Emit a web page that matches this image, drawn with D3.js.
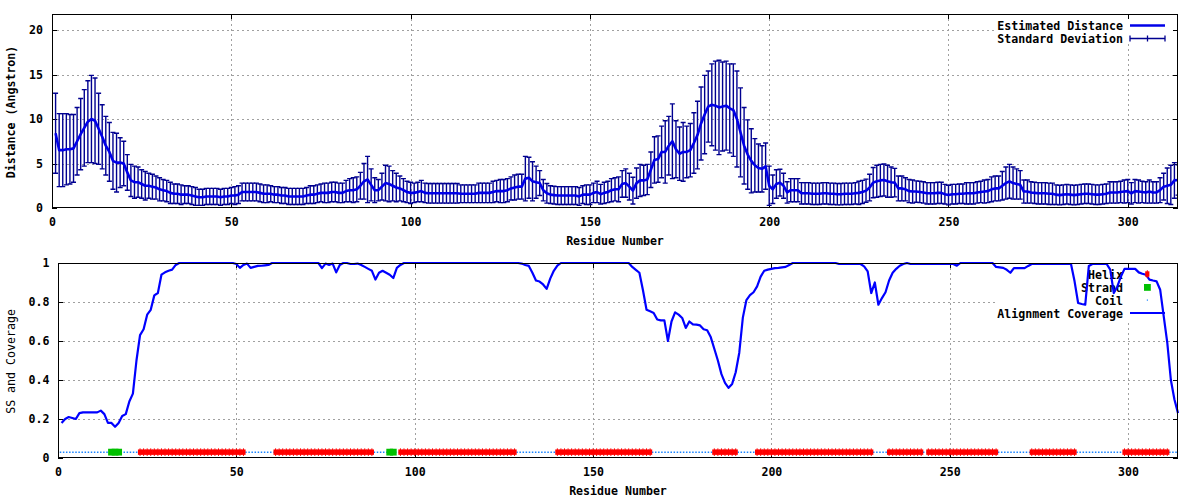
<!DOCTYPE html>
<html><head><meta charset="utf-8">
<script src="https://cdn.jsdelivr.net/npm/d3@7"></script>
<style>
html,body{margin:0;padding:0;background:#fff;}
svg{display:block;}
text{font-family:"DejaVu Sans Mono",monospace;font-weight:bold;font-size:11.6px;fill:#000;}
text.ytitle2{font-weight:normal;}
</style></head><body>
<svg id="chart" width="1200" height="500"></svg>
<script>
// ---- data, residue i+1 for index i ----
const distance = [
8.4,6.5,6.5,6.6,6.6,6.7,7.5,8.3,9.0,9.7,
10.0,9.8,8.9,8.0,7.0,6.3,5.3,5.1,5.1,5.0,
4.0,3.1,2.9,2.9,2.7,2.5,2.5,2.4,2.3,2.1,
2.0,1.9,1.7,1.6,1.6,1.5,1.5,1.5,1.4,1.3,
1.2,1.2,1.3,1.3,1.3,1.3,1.2,1.3,1.3,1.4,
1.4,1.5,1.8,1.8,1.8,1.8,1.8,1.7,1.6,1.6,
1.6,1.5,1.5,1.4,1.4,1.3,1.3,1.3,1.3,1.3,
1.4,1.5,1.5,1.6,1.7,1.7,1.7,1.8,1.8,1.7,
1.7,1.9,2.0,2.0,2.1,2.5,3.0,3.2,2.6,2.0,
2.0,2.4,2.8,2.7,2.5,2.3,2.2,2.0,1.8,1.7,
1.7,1.8,1.9,1.7,1.65,1.65,1.65,1.65,1.65,1.65,
1.65,1.65,1.65,1.6,1.6,1.6,1.6,1.6,1.7,1.7,
1.7,1.7,1.8,1.9,1.9,1.9,2.0,2.2,2.3,2.4,
2.4,3.3,3.4,3.0,2.9,2.8,2.0,1.65,1.5,1.45,
1.4,1.4,1.4,1.4,1.4,1.4,1.3,1.5,1.5,1.5,
1.7,1.8,1.55,1.7,1.8,2.0,2.1,2.1,2.7,2.8,
2.4,1.95,2.8,3.1,3.1,3.2,4.3,5.4,5.5,6.3,
6.3,7.0,7.5,6.6,6.1,6.3,6.3,6.5,7.3,8.2,
9.5,10.5,11.4,11.6,11.5,11.3,11.4,11.5,11.2,11.0,
10.0,8.5,7.0,6.0,5.3,4.8,4.5,4.4,4.7,2.5,
2.1,2.7,2.85,2.5,1.75,2.0,2.0,2.0,1.65,1.65,
1.65,1.6,1.6,1.6,1.65,1.65,1.6,1.6,1.55,1.55,
1.6,1.6,1.6,1.65,1.7,1.8,1.95,2.3,2.85,3.0,
3.1,3.15,3.0,2.9,2.85,2.2,2.2,2.1,1.9,1.85,
1.85,1.8,1.75,1.65,1.65,1.65,1.7,1.7,1.55,1.45,
1.55,1.55,1.6,1.6,1.65,1.65,1.65,1.75,1.8,1.85,
1.9,2.1,2.2,2.2,2.5,2.8,3.0,2.8,2.7,2.6,
1.85,1.85,1.75,1.7,1.65,1.65,1.65,1.6,1.6,1.5,
1.45,1.5,1.55,1.5,1.45,1.5,1.55,1.6,1.6,1.55,
1.5,1.5,1.55,1.6,1.75,1.75,1.75,1.8,1.85,1.9,
1.65,1.9,1.85,1.8,1.75,1.85,1.75,1.75,2.0,2.4,
2.5,2.6,3.1,3.15];

const stdDev = [
4.5,4.1,4.1,4.0,3.9,3.8,3.8,4.0,4.3,4.6,
4.9,4.8,4.0,3.6,3.3,3.3,3.2,3.3,2.8,2.5,
2.0,1.8,1.8,1.7,1.6,1.6,1.4,1.4,1.3,1.3,
1.2,1.2,1.2,1.1,1.1,1.1,1.0,1.0,1.0,1.0,
0.9,0.9,0.9,0.9,0.9,0.9,0.9,0.9,0.9,0.9,
1.0,1.0,1.0,1.0,1.0,1.0,1.0,1.0,1.0,1.0,
0.9,0.9,0.9,0.9,0.9,0.9,0.9,0.9,0.9,0.9,
0.9,1.0,1.0,1.0,1.0,1.1,1.1,1.1,1.1,1.1,
1.1,1.2,1.3,1.4,1.4,1.5,2.0,2.6,1.8,1.4,
1.2,1.5,2.0,2.0,1.7,1.6,1.4,1.3,1.2,1.2,
1.1,1.1,1.2,1.1,1.1,1.1,1.1,1.1,1.1,1.1,
1.1,1.1,1.1,1.0,1.0,1.0,1.0,1.0,1.1,1.1,
1.1,1.1,1.2,1.2,1.3,1.3,1.3,1.3,1.4,1.4,
1.4,2.5,2.3,2.2,1.8,1.4,1.2,1.1,1.0,1.0,
1.0,1.0,1.0,1.0,1.0,1.0,1.0,1.0,1.1,1.1,
1.1,1.2,1.1,1.2,1.2,1.3,1.3,1.4,1.5,1.6,
1.5,1.5,1.7,1.8,1.7,1.7,2.0,2.6,2.6,2.9,
3.5,3.3,4.2,3.2,3.0,3.3,2.9,3.0,3.4,3.8,
4.1,4.4,4.0,4.6,5.0,5.3,5.0,5.0,5.0,5.2,
5.4,5.0,4.3,3.9,3.6,3.0,2.7,2.6,2.6,2.2,
1.6,1.6,1.5,1.4,1.2,1.3,1.3,1.3,1.2,1.2,
1.2,1.2,1.2,1.2,1.2,1.2,1.2,1.2,1.2,1.2,
1.2,1.2,1.2,1.2,1.3,1.3,1.3,1.5,1.7,1.8,
1.8,1.8,1.8,1.7,1.6,1.4,1.4,1.3,1.3,1.3,
1.2,1.2,1.2,1.2,1.2,1.2,1.2,1.2,1.1,1.1,
1.1,1.1,1.1,1.1,1.2,1.2,1.2,1.2,1.2,1.3,
1.3,1.4,1.4,1.4,1.6,1.8,1.9,1.8,1.7,1.6,
1.3,1.3,1.2,1.2,1.2,1.2,1.2,1.2,1.2,1.1,
1.1,1.1,1.1,1.1,1.1,1.1,1.1,1.1,1.1,1.1,
1.1,1.1,1.1,1.1,1.2,1.2,1.2,1.2,1.3,1.3,
1.2,1.3,1.3,1.2,1.2,1.3,1.2,1.2,1.4,1.5,
2.0,2.2,2.0,1.7];

const coverage = [
0.18,0.20,0.21,0.205,0.20,0.23,0.234,0.234,0.234,0.234,
0.234,0.243,0.225,0.18,0.18,0.16,0.18,0.215,0.225,0.29,
0.33,0.50,0.63,0.66,0.735,0.76,0.834,0.846,0.94,0.952,
0.96,0.966,0.99,1,1,1,1,1,1,1,
1,1,1,1,1,1,1,1,1,0.995,
0.975,0.99,0.997,0.975,0.98,0.985,0.986,0.988,0.99,1,
1,1,1,1,1,1,1,1,1,1,
1,1,1,0.974,0.997,0.99,0.997,0.952,0.99,1,
1,0.995,0.995,0.997,0.99,0.98,0.97,0.96,0.915,0.95,
0.96,0.95,0.94,0.923,0.975,0.99,1,1,1,1,
1,1,1,1,1,1,1,1,1,1,
1,1,1,1,1,1,1,1,1,1,
1,1,1,1,1,1,1,1,1,0.997,
0.99,0.985,0.95,0.91,0.905,0.89,0.867,0.92,0.96,0.986,
1,1,1,1,1,1,1,1,1,1,
1,1,1,1,1,1,1,1,1,1,
0.98,0.965,0.95,0.86,0.76,0.752,0.744,0.71,0.706,0.706,
0.6,0.7,0.747,0.735,0.718,0.667,0.70,0.685,0.684,0.68,
0.66,0.655,0.62,0.56,0.50,0.43,0.385,0.36,0.38,0.44,
0.54,0.72,0.81,0.835,0.85,0.88,0.93,0.96,0.966,0.97,
0.974,0.975,0.978,0.98,0.99,1,1,1,1,1,
1,1,1,1,1,1,1,1,0.995,0.995,
0.995,0.995,0.995,0.995,0.995,0.983,0.957,0.846,0.9,0.786,
0.82,0.85,0.91,0.95,0.97,0.986,0.995,1,0.995,0.995,
0.995,0.995,0.995,0.995,0.995,0.995,0.995,0.995,0.995,0.995,
0.995,0.986,1,1,1,1,1,1,1,1,
1,1,0.98,0.978,0.975,0.965,0.95,0.974,0.974,0.974,
0.974,0.985,0.995,0.995,0.995,0.995,0.995,0.995,0.995,0.995,
0.995,0.995,0.995,0.995,0.906,0.795,0.79,0.786,0.985,0.995,
0.995,0.995,0.995,0.995,0.966,0.846,0.88,0.93,0.97,0.97,
0.97,0.97,0.952,0.945,0.94,0.915,0.91,0.906,0.863,0.726,
0.59,0.40,0.30,0.23];

// secondary structure runs: [type, first residue, last residue]
const ssRuns = [["C",1,14],["E",15,17],["C",18,22],["H",23,52],["C",53,60],["H",61,88],
["C",89,92],["E",93,94],["C",95,95],["H",96,128],["C",129,139],["H",140,166],["C",167,183],
["H",184,190],["C",191,195],["H",196,228],["C",229,232],["H",233,242],["C",243,243],
["H",244,263],["C",264,272],["H",273,285],["C",286,298],["H",299,311],["C",312,314]];
const ssLevel = 0.03;

const xTicks = [0,50,100,150,200,250,300];
const distTicks = [0,5,10,15,20];
const covTicks = [0,0.2,0.4,0.6,0.8,1];
const xMax = 314, distMax = 21.8;

// ---- drawing ----
const svg = d3.select("#chart");
const P1 = {l:52, r:1178, t:14, b:208};
const P2 = {l:58, r:1178, t:263, b:458};
const x1 = d3.scaleLinear().domain([0,xMax]).range([P1.l,P1.r]);
const y1 = d3.scaleLinear().domain([0,distMax]).range([P1.b,P1.t]);
const x2 = d3.scaleLinear().domain([0,xMax]).range([P2.l,P2.r]);
const y2 = d3.scaleLinear().domain([0,1]).range([P2.b,P2.t]);

const lineBlue = "#0000e8", barBlue = "#000090", covBlue = "#0000ff";
const helixRed = "#ff0000", strandGreen = "#00c000", coilBlue = "#1a84ff";

function drawGrid(P, x, y, xt, yt) {
  const g = svg.append("g").attr("stroke","#a0a0a0").attr("stroke-width",1)
    .attr("stroke-dasharray","2,3").attr("shape-rendering","crispEdges");
  g.selectAll("line.vx").data(xt.filter(v => x(v) > P.l+1 && x(v) < P.r-1)).join("line")
    .attr("x1",d=>Math.round(x(d))+0.5).attr("x2",d=>Math.round(x(d))+0.5).attr("y1",P.t).attr("y2",P.b);
  g.selectAll("line.hy").data(yt.filter(v => y(v) < P.b-1 && y(v) > P.t+1)).join("line")
    .attr("y1",d=>Math.round(y(d))+0.5).attr("y2",d=>Math.round(y(d))+0.5).attr("x1",P.l).attr("x2",P.r);
}
drawGrid(P1, x1, y1, xTicks, distTicks);
drawGrid(P2, x2, y2, xTicks, covTicks);

// opaque key boxes
svg.append("rect").attr("x",997).attr("y",P1.t+1).attr("width",P1.r-998).attr("height",29).attr("fill","#fff");
svg.append("rect").attr("x",997).attr("y",P2.t+1).attr("width",P2.r-998).attr("height",56).attr("fill","#fff");

function axes(P, x, y, yt, yfmt, ypad) {
  const gb = svg.append("g").attr("transform",`translate(0,${P.b})`)
    .call(d3.axisBottom(x).tickValues(xTicks).tickSizeInner(-5).tickSizeOuter(0).tickPadding(10));
  const gt = svg.append("g").attr("transform",`translate(0,${P.t})`)
    .call(d3.axisTop(x).tickValues(xTicks).tickSizeInner(-5).tickSizeOuter(0).tickFormat(""));
  const gl = svg.append("g").attr("transform",`translate(${P.l},0)`)
    .call(d3.axisLeft(y).tickValues(yt).tickFormat(yfmt).tickSizeInner(-5).tickSizeOuter(0).tickPadding(ypad));
  const gr = svg.append("g").attr("transform",`translate(${P.r},0)`)
    .call(d3.axisRight(y).tickValues(yt).tickSizeInner(-5).tickSizeOuter(0).tickFormat(""));
  [gb,gt,gl,gr].forEach(g => { g.select(".domain").remove(); g.selectAll("line").attr("shape-rendering","crispEdges"); });
}
axes(P1, x1, y1, distTicks, d3.format("d"), 9);
axes(P2, x2, y2, covTicks, d3.format("~g"), 8.5);

// legends (text)
function legendText(txt, yc) {
  svg.append("text").attr("x",1123).attr("y",yc).attr("dy","0.36em").attr("text-anchor","end").text(txt);
}
legendText("Estimated Distance", 26);
legendText("Standard Deviation", 38.7);
legendText("Helix", 275);
legendText("Strand", 288);
legendText("Coil", 300.7);
legendText("Alignment Coverage", 313.7);

// ---- top panel data ----
svg.append("clipPath").attr("id","c1").append("rect").attr("x",P1.l).attr("y",P1.t).attr("width",P1.r-P1.l).attr("height",P1.b-P1.t);
const gTop = svg.append("g").attr("clip-path","url(#c1)");
const pts = distance.map((d,i) => ({r:i+1, d, s:stdDev[i]}));
const eb = gTop.append("g").attr("stroke",barBlue).attr("stroke-width",1.4).attr("fill","none");
eb.selectAll("path").data(pts).join("path")
  .attr("d", p => {
    const xx = x1(p.r), yt = y1(p.d+p.s), yb = y1(p.d-p.s);
    return `M${xx},${yt}V${yb}M${xx-2.5},${yt}H${xx+2.5}M${xx-2.5},${yb}H${xx+2.5}`;
  });
gTop.append("path").datum(pts).attr("fill","none").attr("stroke",lineBlue).attr("stroke-width",2.6)
  .attr("stroke-linejoin","round")
  .attr("d", d3.line().x(p=>x1(p.r)).y(p=>y1(p.d)));

// legend samples top
svg.append("line").attr("x1",1130).attr("x2",1165).attr("y1",25.5).attr("y2",25.5)
  .attr("stroke",lineBlue).attr("stroke-width",2.5);
svg.append("path").attr("d","M1130,38.5H1165M1130,35.5V41.5M1165,35.5V41.5M1147.5,35.5V41.5")
  .attr("stroke",barBlue).attr("stroke-width",1.3).attr("fill","none");

// ---- bottom panel data ----
const ssRes = [];
ssRuns.forEach(([t,a,b]) => { for (let r=a; r<=b; r++) ssRes.push({r, t}); });
const gBot = svg.append("g");
// coil runs as dotted line
gBot.selectAll("line.coil").data(ssRuns.filter(s => s[0]==="C")).join("line")
  .attr("x1", s => x2(s[1]) - 1.8).attr("x2", s => Math.min(x2(s[2]) + 1.8, P2.r))
  .attr("y1", y2(ssLevel)).attr("y2", y2(ssLevel))
  .attr("stroke", coilBlue).attr("stroke-width",1.5).attr("stroke-dasharray","1.5,1.6");
// helix marks
const hel = gBot.selectAll("g.h").data(ssRes.filter(s => s.t==="H")).join("g").attr("fill",helixRed);
hel.append("rect").attr("x", s => x2(s.r)-2.1).attr("width",4.2).attr("y", y2(ssLevel)-2.7).attr("height",5.4);
hel.append("rect").attr("x", s => x2(s.r)-0.5).attr("width",1).attr("y", y2(ssLevel)-3.8).attr("height",7.6);
// strand marks
gBot.selectAll("rect.e").data(ssRes.filter(s => s.t==="E")).join("rect")
  .attr("x", s => x2(s.r)-3.4).attr("width",6.8).attr("y", y2(ssLevel)-3.4).attr("height",6.8).attr("fill",strandGreen);
// coverage line
gBot.append("path").datum(coverage).attr("fill","none").attr("stroke",covBlue).attr("stroke-width",2.2)
  .attr("stroke-linejoin","round")
  .attr("d", d3.line().x((v,i)=>x2(i+1)).y(v=>y2(v)));

// legend samples bottom
svg.append("rect").attr("x",1145.2).attr("y",271.3).attr("width",4.2).attr("height",5.4).attr("fill",helixRed);
svg.append("rect").attr("x",1146.8).attr("y",270.2).attr("width",1).attr("height",7.6).attr("fill",helixRed);
svg.append("rect").attr("x",1144).attr("y",284).attr("width",6.8).attr("height",6.8).attr("fill",strandGreen);
svg.append("rect").attr("x",1146.8).attr("y",299.5).attr("width",1.2).attr("height",1.2).attr("fill",coilBlue);
svg.append("line").attr("x1",1130).attr("x2",1165).attr("y1",313).attr("y2",313)
  .attr("stroke",covBlue).attr("stroke-width",2.2);

// borders
[P1,P2].forEach(P => svg.append("rect").attr("x",P.l+0.5).attr("y",P.t+0.5)
  .attr("width",P.r-P.l-1).attr("height",P.b-P.t-1).attr("fill","none").attr("stroke","#000")
  .attr("stroke-width",1).attr("shape-rendering","crispEdges"));

// titles
svg.append("text").attr("x",(P1.l+P1.r)/2).attr("y",240.5).attr("dy","0.36em").attr("text-anchor","middle").text("Residue Number");
svg.append("text").attr("x",(P2.l+P2.r)/2).attr("y",491).attr("dy","0.36em").attr("text-anchor","middle").text("Residue Number");
svg.append("text").attr("transform","translate(10.5,112) rotate(-90)").attr("dy","0.36em").attr("text-anchor","middle").text("Distance (Angstron)");
svg.append("text").attr("class","ytitle2").attr("transform","translate(10.8,361.5) rotate(-90)").attr("dy","0.36em").attr("text-anchor","middle").text("SS and Coverage");
</script>
</body></html>
